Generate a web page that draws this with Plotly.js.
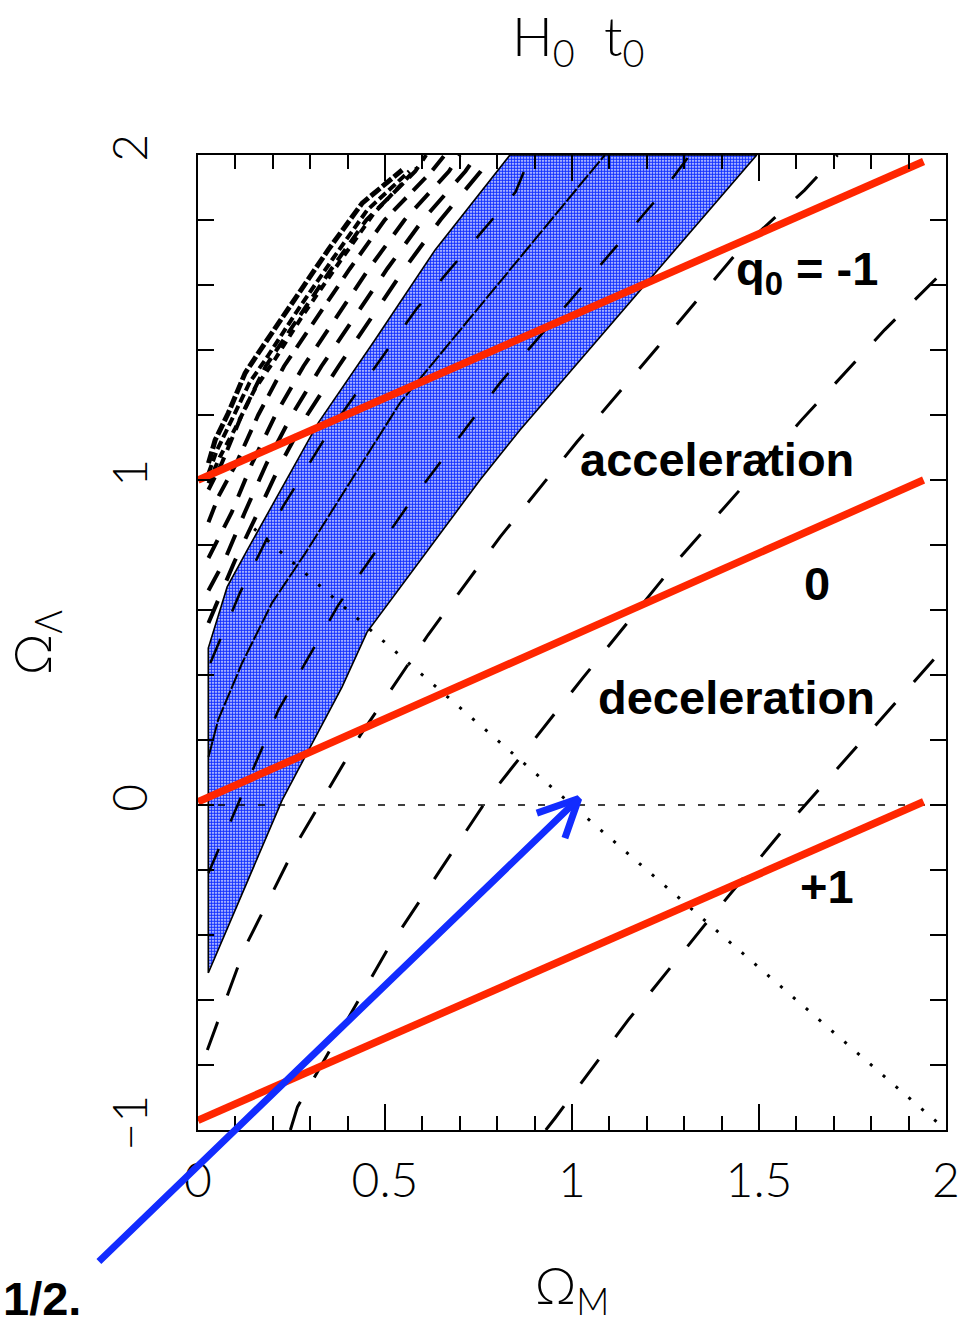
<!DOCTYPE html>
<html>
<head>
<meta charset="utf-8">
<script src="https://cdn.plot.ly/plotly-3.0.1.min.js"></script>
<style>
  html, body { margin: 0; padding: 0; background: #ffffff; }
  #chart { width: 979px; height: 1328px; }
</style>
</head>
<body>
<div id="chart"></div>
<script>
// ---- values (Ωm, ΩΛ) ----

// deceleration-parameter lines, q0 = Ωm/2 − ΩΛ
const qLineX = [0, 1.94];
const qMinus1Y = [1.0, 1.98];
const qZeroY = [0.01, 1.0];
const qPlus1Y = [-0.97, 0.01];

// shaded band of allowed H0 t0
const bandX = [0.0275, 0.0275, 0.078, 0.132, 0.321, 0.473, 0.634, 0.834, 1.494, 0.861, 0.754, 0.452, 0.385, 0.225, 0.0275];
const bandY = [-0.517, 0.483, 0.671, 0.785, 1.175, 1.431, 1.708, 2.0, 2.0, 1.154, 1.0, 0.532, 0.363, 0.015, -0.517];

// H0 t0 contours, right of the band
const ageL1X = [0.025, 0.126, 0.269, 0.434, 0.615, 0.808, 1.013, 1.227, 1.443, 1.622, 1.71];
const ageL1Y = [-0.754, -0.437, -0.108, 0.215, 0.523, 0.825, 1.117, 1.406, 1.702, 1.892, 2.0];
const ageL2X = [0.247, 0.266, 0.506, 0.776, 1.029, 1.288, 1.614, 1.836, 2.0];
const ageL2Y = [-1.0, -0.929, -0.446, 0.022, 0.391, 0.760, 1.185, 1.462, 1.65];
const ageL3X = [0.93, 0.955, 1.150, 1.355, 1.564, 1.783, 1.942, 2.0];
const ageL3Y = [-1.0, -0.963, -0.662, -0.369, -0.077, 0.209, 0.415, 0.49];

// H0 t0 contours inside the band
const ageB1X = [0.033, 0.113, 0.225, 0.348, 0.586, 0.849, 0.89];
const ageB1Y = [0.437, 0.655, 0.914, 1.145, 1.529, 1.886, 2.0];
const ageMidX = [0.028, 0.054, 0.118, 0.198, 0.287, 0.540, 1.061, 1.088];
const ageMidY = [0.148, 0.262, 0.437, 0.622, 0.775, 1.237, 1.963, 2.0];
const ageB2X = [0.028, 0.215, 0.375, 0.562, 0.807, 1.229, 1.315];
const ageB2Y = [-0.209, 0.292, 0.615, 0.923, 1.298, 1.868, 2.0];

// H0 t0 contours, left of the band
const ageU1X = [0.028, 0.063, 0.117, 0.181, 0.269, 0.357, 0.450, 0.581, 0.61];
const ageU1Y = [0.97, 1.05, 1.2, 1.35, 1.5, 1.65, 1.8, 1.95, 2.0];
const ageU2X = [0.028, 0.055, 0.102, 0.161, 0.230, 0.318, 0.406, 0.499, 0.625, 0.66];
const ageU2Y = [0.87, 0.95, 1.05, 1.2, 1.35, 1.5, 1.65, 1.8, 1.95, 2.0];
const ageU3X = [0.028, 0.09, 0.144, 0.207, 0.282, 0.370, 0.457, 0.552, 0.671, 0.70];
const ageU3Y = [0.76, 0.9, 1.05, 1.2, 1.35, 1.5, 1.65, 1.8, 1.95, 2.0];
const ageU4X = [0.028, 0.07, 0.125, 0.183, 0.251, 0.330, 0.418, 0.506, 0.601, 0.715, 0.745];
const ageU4Y = [0.66, 0.75, 0.9, 1.05, 1.2, 1.35, 1.5, 1.65, 1.8, 1.95, 2.0];
const ageU5X = [0.028, 0.098, 0.16, 0.221, 0.292, 0.376, 0.464, 0.552, 0.648, 0.756, 0.785];
const ageU5Y = [0.56, 0.75, 0.9, 1.05, 1.2, 1.35, 1.5, 1.65, 1.8, 1.95, 2.0];

// crowded contours along the no-big-bang edge
const edgeAX = [0.028, 0.046, 0.081, 0.126, 0.172, 0.252, 0.348, 0.439, 0.546];
const edgeAY = [1.052, 1.123, 1.206, 1.329, 1.409, 1.545, 1.708, 1.852, 1.954];
const edgeBX = [0.028, 0.05, 0.088, 0.138, 0.186, 0.265, 0.36, 0.452, 0.565];
const edgeBY = [1.02, 1.09, 1.18, 1.30, 1.38, 1.52, 1.68, 1.83, 1.95];
const edgeCX = [0.028, 0.058, 0.10, 0.152, 0.205, 0.282, 0.378, 0.47, 0.585];
const edgeCY = [0.99, 1.07, 1.16, 1.28, 1.37, 1.51, 1.67, 1.82, 1.96];

// flat universe, Ωm + ΩΛ = 1
const flatX = [0.15, 2.0];
const flatY = [0.85, -1.0];
// ΩΛ = 0
const zeroX = [0.0, 2.0];
const zeroY = [0.0, 0.0];

// pointer arrow
const arrowTail = [-0.269, -1.409];
const arrowTip = [1.018, 0.02];
const arrowHeadX = [0.906, 1.018, 0.981];
const arrowHeadY = [-0.025, 0.02, -0.102];

// axis ticks
const xTickVals = [0, 0.5, 1, 1.5, 2];
const xTickText = ['0', '0.5', '1', '1.5', '2'];
const yTickVals = [-1, 0, 1, 2];
const yTickText = ['\u22121', '0', '1', '2'];

// ---- styles ----
const RED = 'rgb(255,38,0)';
const BLUE = 'rgb(18,44,255)';
const AXIS_FONT = { family: 'Lato, "DejaVu Sans", sans-serif', size: 48, color: '#000', weight: 300 };
const LABEL_FONT = { family: '"Liberation Sans", Arial, sans-serif', size: 47, color: '#000', weight: 700 };

function dashed(x, y, dash, width) {
  return { x, y, type: 'scatter', mode: 'lines', hoverinfo: 'skip', showlegend: false,
           line: { color: '#000', width: width || 3, dash: dash || '30px,28px' } };
}
function redLine(y) {
  return { x: qLineX, y, type: 'scatter', mode: 'lines', hoverinfo: 'skip', showlegend: false,
           line: { color: RED, width: 7.5 } };
}

const traces = [
  { x: bandX, y: bandY, type: 'scatter', mode: 'lines', fill: 'toself', hoverinfo: 'skip', showlegend: false,
    fillcolor: 'rgba(0,0,0,0)',
    fillpattern: { shape: '.', fgcolor: 'rgb(20,50,255)', bgcolor: '#ffffff', size: 3, solidity: 0.7 },
    line: { color: '#000', width: 1.6 } },
  dashed(zeroX, zeroY, '7px,13px', 1.5),
  dashed(flatX, flatY, '3px,14px', 3),
  dashed(ageL1X, ageL1Y),
  dashed(ageL2X, ageL2Y),
  dashed(ageL3X, ageL3Y),
  dashed(ageB1X, ageB1Y, '26px,30px', 2.5),
  dashed(ageB2X, ageB2Y, '26px,30px', 2.5),
  dashed(ageMidX, ageMidY, '16px,2px', 2),
  dashed(ageU1X, ageU1Y, '14px,8px', 4),
  dashed(ageU2X, ageU2Y, '18px,10px', 4),
  dashed(ageU3X, ageU3Y, '20px,14px', 4),
  dashed(ageU4X, ageU4Y, '22px,18px', 4),
  dashed(ageU5X, ageU5Y, '24px,22px', 4),
  dashed(edgeAX, edgeAY, '12px,3px', 5),
  dashed(edgeBX, edgeBY, '9px,4px', 4),
  dashed(edgeCX, edgeCY, '8px,6px', 4),
  redLine(qMinus1Y),
  redLine(qZeroY),
  redLine(qPlus1Y),
  { x: arrowHeadX, y: arrowHeadY, type: 'scatter', mode: 'lines', hoverinfo: 'skip', showlegend: false,
    line: { color: BLUE, width: 7 } }
];

function label(text, x, y, extra) {
  return Object.assign({ text, x, y, xref: 'x', yref: 'y', showarrow: false, font: LABEL_FONT }, extra || {});
}

const layout = {
  width: 979, height: 1328,
  margin: { l: 198, r: 33, t: 155, b: 198 },
  paper_bgcolor: '#ffffff', plot_bgcolor: '#ffffff',
  showlegend: false,
  xaxis: {
    range: [0, 2], fixedrange: true, showgrid: false, zeroline: false,
    showline: true, linecolor: '#000', linewidth: 2, mirror: 'ticks',
    ticks: 'inside', ticklen: 26, tickwidth: 2, tickcolor: '#000',
    tickvals: xTickVals, ticktext: xTickText, tickfont: AXIS_FONT, ticklabelstandoff: 7,
    minor: { dtick: 0.1, ticks: 'inside', ticklen: 14, tickwidth: 2, tickcolor: '#000', showgrid: false },
    title: { text: '\u03A9<sub>M</sub>', font: Object.assign({}, AXIS_FONT, { size: 52 }), standoff: 62 }
  },
  yaxis: {
    range: [-1, 2], fixedrange: true, showgrid: false, zeroline: false,
    showline: true, linecolor: '#000', linewidth: 2, mirror: 'ticks',
    ticks: 'inside', ticklen: 16, tickwidth: 2, tickcolor: '#000',
    tickvals: yTickVals, ticktext: yTickText, tickangle: -90, tickfont: AXIS_FONT, ticklabelstandoff: 30,
    minor: { dtick: 0.2, ticks: 'inside', ticklen: 16, tickwidth: 2, tickcolor: '#000', showgrid: false },
    title: { text: '\u03A9<sub>\u039B</sub>', font: Object.assign({}, AXIS_FONT, { size: 52 }), standoff: 40 }
  },
  annotations: [
    // top caption
    { text: 'H<sub>0</sub>  t<sub>0</sub>', xref: 'paper', yref: 'paper', x: 0.508, y: 1.158,
      showarrow: false, font: Object.assign({}, AXIS_FONT, { size: 54 }) },
    label('q<sub>0</sub> = -1', 1.627, 1.64),
    label('acceleration', 1.389, 1.062),
    label('0', 1.654, 0.683),
    label('deceleration', 1.44, 0.332),
    label('+1', 1.683, -0.252),
    { text: '1/2.', xref: 'paper', yref: 'paper', x: -0.2628, y: -0.2025, xanchor: 'left', yanchor: 'bottom',
      showarrow: false, font: LABEL_FONT },
    // arrow shaft running in from below the frame
    { text: '', x: arrowTip[0], y: arrowTip[1], xref: 'x', yref: 'y',
      ax: arrowTail[0], ay: arrowTail[1], axref: 'x', ayref: 'y',
      showarrow: true, arrowhead: 0, arrowwidth: 7, arrowcolor: BLUE, standoff: 0, startstandoff: 0 }
  ]
};

Plotly.newPlot('chart', traces, layout, { staticPlot: true, displayModeBar: false });
</script>
</body>
</html>
